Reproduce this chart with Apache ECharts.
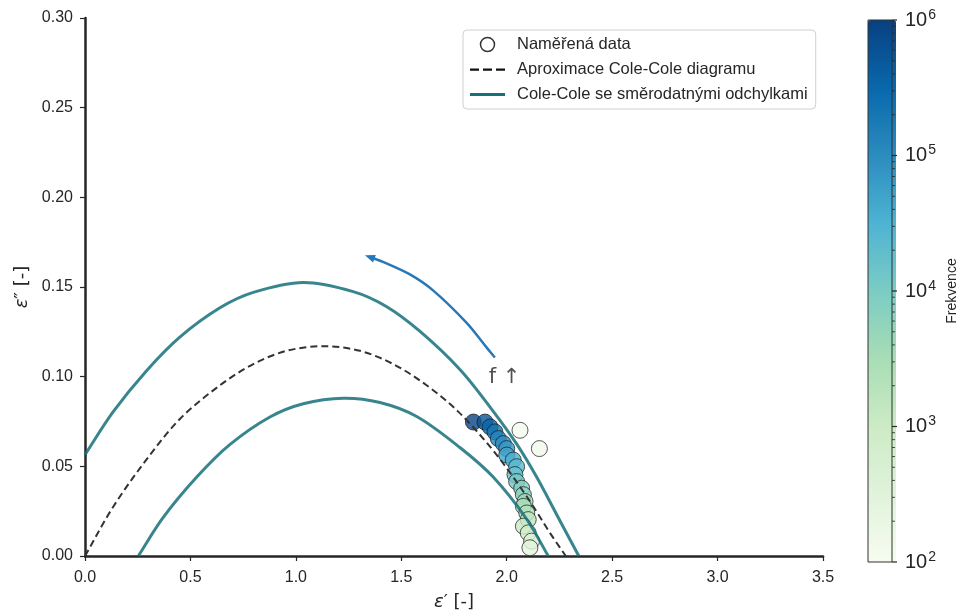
<!DOCTYPE html>
<html><head><meta charset="utf-8">
<script src="https://cdn.jsdelivr.net/npm/echarts@6/dist/echarts.min.js"></script>
<style>html,body{margin:0;padding:0;background:#fff}#c{width:960px;height:616px}</style>
</head><body><div id="c"></div>
<script>
// ---- data ----
const measX = [1.842,1.897,1.921,1.944,1.960,1.984,2.000,2.000,2.031,2.047,2.039,2.047,2.071,2.079,2.087,2.079,2.095,2.102,2.079,2.102,2.118,2.110,2.063,2.155];
const measY = [0.0747,0.0747,0.0720,0.0692,0.0655,0.0627,0.0599,0.0563,0.0535,0.0498,0.0454,0.0415,0.0378,0.0342,0.0304,0.0277,0.0240,0.0203,0.0166,0.0129,0.0083,0.0046,0.0701,0.0599];
const measLogF = [5.95,5.75,5.55,5.35,5.15,5.0,4.85,4.7,4.55,4.4,4.25,4.1,3.95,3.8,3.65,3.5,3.35,3.2,3.05,2.85,2.65,2.45,2.05,2.15];
const fitCurve = [[0,0],[0.134,0.0275],[0.293,0.0540],[0.451,0.0765],[0.640,0.0952],[0.798,0.1070],[0.956,0.1144],[1.130,0.1170],[1.304,0.1144],[1.462,0.1070],[1.620,0.0952],[1.770,0.0805],[1.936,0.0588],[2.095,0.0332],[2.205,0.0129],[2.28,0]];
const upperBand = [[0,0.0565],[0.134,0.0805],[0.293,0.1035],[0.451,0.1222],[0.640,0.1384],[0.798,0.1470],[1.035,0.1525],[1.272,0.1474],[1.431,0.1390],[1.589,0.1252],[1.778,0.1040],[1.929,0.0818],[2.047,0.0625],[2.142,0.0440],[2.253,0.0195],[2.342,0]];
const lowerBand = [[0.253,0],[0.371,0.0215],[0.530,0.0440],[0.688,0.0622],[0.877,0.0775],[1.035,0.0849],[1.225,0.0880],[1.399,0.0856],[1.573,0.0778],[1.778,0.0605],[1.936,0.0440],[2.095,0.0205],[2.197,0]];
const arrowPath = [[1.944,0.1107],[1.905,0.1162],[1.810,0.1300],[1.652,0.1480],[1.541,0.1570],[1.413,0.1640],[1.328,0.1677]];
const freqLabelPos = [[1.99,0.0996]];
const xTicks = {min:0, max:3.5, step:0.5};
const yTicks = {min:0, max:0.30, step:0.05};
const cbarMajor = [2,3,4,5,6];
const cbarMinorMult = [2,3,4,5,6,7,8,9];
const names = ['Naměřená data','Aproximace Cole-Cole diagramu','Cole-Cole se směrodatnými odchylkami'];
const gnbu = ['#f7fcf0','#e0f3db','#ccebc5','#a8ddb5','#7bccc4','#4eb3d3','#2b8cbe','#0868ac','#084081'];

const cbarMinor = [];
for (let n = 2; n < 6; n++) cbarMinorMult.forEach(k => cbarMinor.push(n + Math.log10(k)));
const cbarTicks = cbarMajor.map(v => [1, v, 5]).concat(cbarMinor.map(v => [1, v, 3]));
const meas = measX.map((x,i) => [x, measY[i], measLogF[i]]);

const dark = '#262626';
const teal = '#16707a';
const arrowColor = '#2878b8';
const FONT = 'Liberation Sans';

// smooth path through pixel points (chord-length Catmull-Rom as cubic Bezier)
function smoothPathData(pts) {
  const n = pts.length;
  const d = [];
  for (let i = 0; i < n - 1; i++) d.push(Math.hypot(pts[i+1][0]-pts[i][0], pts[i+1][1]-pts[i][1]) || 1e-6);
  const m = pts.map((p, i) => {
    if (i === 0) return [(pts[1][0]-p[0])/d[0], (pts[1][1]-p[1])/d[0]];
    if (i === n-1) return [(p[0]-pts[n-2][0])/d[n-2], (p[1]-pts[n-2][1])/d[n-2]];
    const s = d[i-1] + d[i];
    return [(pts[i+1][0]-pts[i-1][0])/s, (pts[i+1][1]-pts[i-1][1])/s];
  });
  let path = 'M' + pts[0][0] + ',' + pts[0][1];
  for (let i = 0; i < n - 1; i++) {
    const p1 = pts[i], p2 = pts[i+1], h = d[i] / 3;
    path += 'C' + (p1[0]+m[i][0]*h) + ',' + (p1[1]+m[i][1]*h) + ',' +
            (p2[0]-m[i+1][0]*h) + ',' + (p2[1]-m[i+1][1]*h) + ',' + p2[0] + ',' + p2[1];
  }
  return path;
}
function curveRenderer(points, style) {
  return function (params, api) {
    if (params.dataIndex !== 0) return null;
    const pts = points.map(p => api.coord(p));
    return {type:'path', silent:true, shape:{pathData:smoothPathData(pts)},
            style:Object.assign({fill:null, lineCap:'butt'}, style)};
  };
}
function arrowRenderer(params, api) {
  if (params.dataIndex !== 0) return null;
  const pts = arrowPath.map(p => api.coord(p));
  const n = pts.length;
  const tip = pts[n-1], prev = pts[n-2];
  let dx = tip[0]-prev[0], dy = tip[1]-prev[1];
  const len = Math.hypot(dx, dy); dx /= len; dy /= len;
  const L = 10, W = 4;
  const bx = tip[0]-dx*L, by = tip[1]-dy*L;
  const body = pts.slice(0, n-1).concat([[bx+dx*2, by+dy*2]]);
  return {type:'group', children:[
    {type:'path', silent:true, shape:{pathData:smoothPathData(body)}, style:{fill:null, stroke:arrowColor, lineWidth:2.5}},
    {type:'polygon', silent:true, shape:{points:[tip,[bx - dy*W, by + dx*W],[bx + dy*W, by - dx*W]]}, style:{fill:arrowColor}}
  ]};
}
function cbarTickRenderer(params, api) {
  const p = api.coord([api.value(0), api.value(1)]);
  const len = api.value(2);
  return {type:'line', silent:true, shape:{x1:p[0], y1:p[1], x2:p[0]+len, y2:p[1]},
          style:{stroke:dark, lineWidth: len > 4 ? 1.2 : 0.8}};
}

const chart = echarts.init(document.getElementById('c'), null, {renderer:'canvas'});
chart.setOption({
  animation: false,
  backgroundColor: '#fff',
  textStyle: {fontFamily: FONT},
  grid: [
    {left:85, top:18, width:738, height:542},
    {left:868, top:20, width:28, height:542, show:true, borderColor:'#333', borderWidth:1, backgroundColor:'transparent', z:10}
  ],
  xAxis: [
    {type:'value', gridIndex:0, min:xTicks.min, max:xTicks.max, interval:xTicks.step,
     axisLine:{show:true, onZero:false, lineStyle:{color:dark, width:2.5}},
     axisTick:{show:true, length:5, lineStyle:{color:dark, width:1.2}},
     axisLabel:{color:dark, fontSize:16, margin:14, formatter:v=>v.toFixed(1)},
     splitLine:{show:false},
     name:'{i|ε}{p|′} [-]', nameLocation:'middle', nameGap:37,
     nameTextStyle:{color:dark, fontSize:18, fontFamily:'DejaVu Sans', rich:{i:{fontStyle:'italic', fontSize:18, fontFamily:'DejaVu Sans', color:dark}, p:{fontSize:18, fontFamily:'DejaVu Sans', color:dark}}}},
    {type:'value', gridIndex:1, min:0, max:1, show:false}
  ],
  yAxis: [
    {type:'value', gridIndex:0, min:yTicks.min, max:yTicks.max, interval:yTicks.step,
     axisLine:{show:true, onZero:false, lineStyle:{color:dark, width:2.5}},
     axisTick:{show:true, length:5, lineStyle:{color:dark, width:1.2}},
     axisLabel:{color:dark, fontSize:16, margin:12, formatter:v=>v.toFixed(2)},
     splitLine:{show:false},
     name:'{i|ε}{p|″} [-]', nameLocation:'middle', nameGap:54, nameRotate:90,
     nameTextStyle:{color:dark, fontSize:18, fontFamily:'DejaVu Sans', rich:{i:{fontStyle:'italic', fontSize:18, fontFamily:'DejaVu Sans', color:dark}, p:{fontSize:18, fontFamily:'DejaVu Sans', color:dark}}}},
    {type:'value', gridIndex:1, min:2, max:6, interval:1, position:'right',
     axisLine:{show:false},
     axisTick:{show:false},
     axisLabel:{show:true, margin:13, color:dark,
       formatter:v=>'{b|10}{s|'+Math.round(v)+'}',
       rich:{b:{fontSize:20, color:dark, fontFamily:FONT}, s:{fontSize:14, color:dark, fontFamily:FONT, verticalAlign:'top', padding:[0,0,10,1]}}},
     splitLine:{show:false},
     name:'Frekvence', nameLocation:'middle', nameGap:53, nameRotate:90,
     nameTextStyle:{color:dark, fontSize:14}}
  ],
  visualMap: {
    type:'continuous', min:2, max:6, dimension:2, seriesIndex:0,
    inRange:{color:gnbu}, left:868, top:20, itemWidth:28, itemHeight:542,
    padding:0, calculable:false, text:null, hoverLink:false, orient:'vertical'
  },
  legend: {
    left:463, top:30, orient:'vertical', backgroundColor:'#fff', borderColor:'#d0d0d0', borderWidth:1, borderRadius:4,
    padding:[6,8,6,7], itemGap:8, itemWidth:35, itemHeight:14,
    textStyle:{color:dark, fontSize:16.5, fontFamily:FONT, padding:[0,0,0,7]},
    selectedMode:false,
    data:[
      {name:names[0], icon:'circle', itemStyle:{color:'#fff', borderColor:'#000', borderWidth:1.5}},
      {name:names[1], icon:'path://M0,0M0,14M0,6h9v2.2h-9zM13,6h9v2.2h-9zM26,6h9v2.2h-9z', itemStyle:{color:'#111', borderWidth:0}},
      {name:names[2], icon:'path://M0,0M0,14M0,5.6h35v3h-35z', itemStyle:{color:teal, borderWidth:0}}
    ]
  },
  series: [
    {type:'scatter', name:names[0], xAxisIndex:0, yAxisIndex:0, data:meas, symbolSize:16, z:3,
     itemStyle:{borderColor:'#1a1a1a', borderWidth:0.9, opacity:0.8}},
    {type:'custom', name:names[1], xAxisIndex:0, yAxisIndex:0, data:fitCurve, z:4, silent:true,
     itemStyle:{color:'#333'},
     renderItem:curveRenderer(fitCurve, {stroke:'#333', lineWidth:2, lineDash:[7,4]})},
    {type:'custom', name:names[2], xAxisIndex:0, yAxisIndex:0, data:upperBand, z:4, silent:true,
     itemStyle:{color:teal},
     renderItem:curveRenderer(upperBand, {stroke:teal, lineWidth:3, opacity:0.85})},
    {type:'custom', name:names[2], xAxisIndex:0, yAxisIndex:0, data:lowerBand, z:4, silent:true,
     itemStyle:{color:teal},
     renderItem:curveRenderer(lowerBand, {stroke:teal, lineWidth:3, opacity:0.85})},
    {type:'custom', name:'arrow', xAxisIndex:0, yAxisIndex:0, data:arrowPath, z:4, silent:true,
     renderItem:arrowRenderer},
    {type:'scatter', name:'flabel', data:freqLabelPos, symbolSize:1, z:4, silent:true,
     itemStyle:{color:'rgba(0,0,0,0)'},
     label:{show:true, position:'inside', formatter:'f ↑', fontSize:21, color:dark, fontFamily:'DejaVu Sans'}},
    {type:'custom', name:'cbarTicks', xAxisIndex:1, yAxisIndex:1, data:cbarTicks, z:12, silent:true,
     renderItem:cbarTickRenderer}
  ]
});
</script></body></html>
